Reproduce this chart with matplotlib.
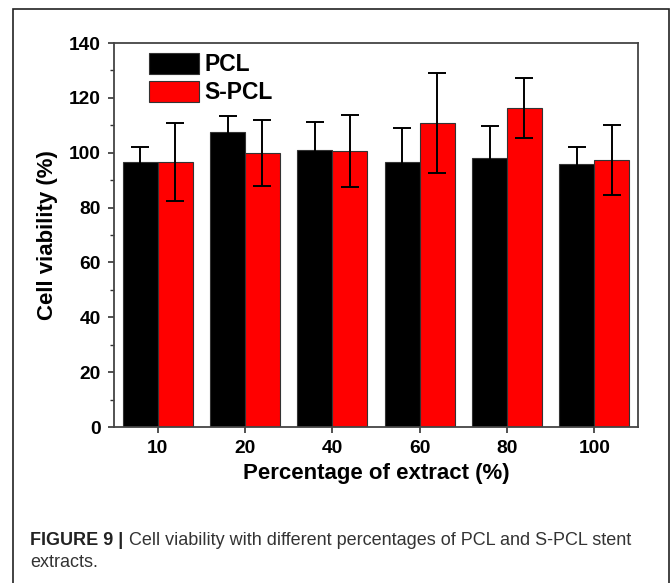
import matplotlib
matplotlib.use("Agg")
import matplotlib.pyplot as plt
import numpy as np
from matplotlib.patches import Rectangle

# data
categories = ["10", "20", "40", "60", "80", "100"]
pcl_mean = [96.5, 107.7, 101.1, 96.5, 98.2, 96.0]
pcl_err = [5.7, 5.6, 10.1, 12.6, 11.4, 6.2]
spcl_mean = [96.5, 99.8, 100.6, 110.8, 116.3, 97.3]
spcl_err = [14.2, 12.0, 13.1, 18.3, 10.9, 12.8]

plt.rcParams['font.family'] = ['Liberation Sans', 'DejaVu Sans']

fig = plt.figure(figsize=(6.72, 5.83), dpi=100)
ax = fig.add_axes([114 / 672, 156 / 583, 524 / 672, 384 / 583])

x = np.arange(len(categories))
w = 0.4
# black error bars: the lower half disappears inside the black PCL bars
err_kw = dict(ecolor='black', elinewidth=1.4, capsize=6.5, capthick=1.4)
ax.bar(x - w / 2, pcl_mean, w, yerr=pcl_err, color='black',
       edgecolor='#333333', linewidth=0.8, label='PCL', error_kw=err_kw)
ax.bar(x + w / 2, spcl_mean, w, yerr=spcl_err, color='#ff0000', edgecolor='#333333',
       linewidth=0.8, label='S-PCL', error_kw=err_kw)

ax.set_xlim(-0.5, 5.5)
ax.set_ylim(0, 140)
ax.set_xticks(x)
ax.set_xticklabels(categories)
ax.set_yticks(np.arange(0, 141, 20))
ax.set_yticks(np.arange(10, 140, 20), minor=True)

for lab in ax.get_xticklabels() + ax.get_yticklabels():
    lab.set_fontweight('bold')
ax.tick_params(axis='both', which='major', direction='out', length=4.5, width=1.2,
               labelsize=13.8, pad=5, color='#333333')
ax.tick_params(axis='y', which='minor', direction='out', length=3, width=1.0, color='#333333')
for s in ax.spines.values():
    s.set_color('#444444')
    s.set_linewidth(1.3)

ax.set_ylabel('Cell viability (%)', fontsize=16, fontweight='bold', labelpad=8)
ax.set_xlabel('Percentage of extract (%)', fontsize=16, fontweight='bold', labelpad=4)

ax.legend(loc='upper left', bbox_to_anchor=(35 / 524, 374 / 384), frameon=False,
          prop={'weight': 'bold', 'size': 16.5}, handlelength=2.18, handleheight=1.05,
          labelspacing=0.2, handletextpad=0.25, borderpad=0, borderaxespad=0)

# outer frame of the figure panel
fig.patches.append(Rectangle((13 / 672, -0.02), 656 / 672, 1.02 - 9 / 583,
                             transform=fig.transFigure, fill=False,
                             edgecolor='#222222', linewidth=1.2))

# caption
t1 = fig.text(30.5 / 672, 1 - 545 / 583, 'FIGURE 9 |', fontsize=13, fontweight='bold',
              color='#222222', va='baseline')
fig.canvas.draw()
bb = t1.get_window_extent()
fig.text((bb.x1 + 5) / 672, 1 - 545 / 583,
         'Cell viability with different percentages of PCL and S-PCL stent',
         fontsize=13, color='#333333', va='baseline')
fig.text(30.5 / 672, 1 - 567 / 583, 'extracts.', fontsize=13, color='#333333', va='baseline')

fig.savefig('out.png', dpi=100)
